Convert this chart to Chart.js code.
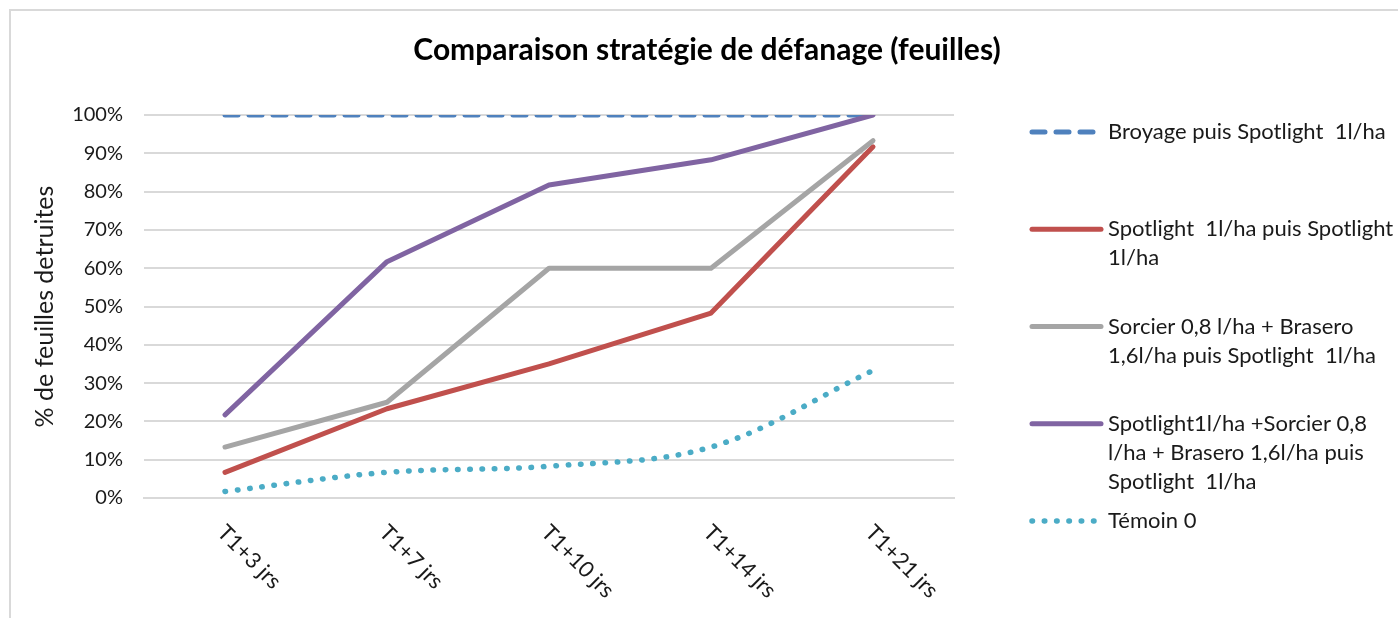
<!DOCTYPE html>
<html lang="fr">
<head>
    <meta charset="UTF-8">
    <title>Comparaison stratégie de défanage (feuilles)</title>
    <script src="https://cdn.jsdelivr.net/npm/chart.js"></script>
    <style>
        body {
            margin: 0;
            background: #FFFFFF;
        }
        .wrap {
            width: 1398px;
            height: 618px;
        }
    </style>
</head>
<body>
    <div class="wrap">
        <canvas id="defanageChart" width="1398" height="618"></canvas>
    </div>

    <script>
        // data
        const categories = ['T1+3 jrs', 'T1+7 jrs', 'T1+10 jrs', 'T1+14 jrs', 'T1+21 jrs'];
        const broyage = [100, 100, 100, 100, 100];
        const spotlightSpotlight = [6.7, 23.3, 35, 48.3, 91.7];
        const sorcierBrasero = [13.3, 25, 60, 60, 93.3];
        const spotlightSorcier = [21.7, 61.7, 81.7, 88.3, 100];
        const temoin = [1.7, 6.7, 8.3, 13.3, 33.3];
        const yTicks = [0, 10, 20, 30, 40, 50, 60, 70, 80, 90, 100];

        const seriesNames = [
            ['Broyage puis Spotlight  1l/ha'],
            ['Spotlight  1l/ha puis Spotlight', '1l/ha'],
            ['Sorcier 0,8 l/ha + Brasero', '1,6l/ha puis Spotlight  1l/ha'],
            ['Spotlight1l/ha +Sorcier 0,8', 'l/ha + Brasero 1,6l/ha puis', 'Spotlight  1l/ha'],
            ['Témoin 0']
        ];
        const chartTitle = 'Comparaison stratégie de défanage (feuilles)';
        const yTitle = '% de feuilles detruites';

        const FONT = 'Lato, "Open Sans", sans-serif';
        const TEXT = '#1a1a1a';

        function line(name, data, color, extra) {
            return Object.assign({
                label: name.join(' '),
                data: data,
                borderColor: color,
                backgroundColor: color,
                borderWidth: 5,
                borderCapStyle: 'round',
                borderJoinStyle: 'round',
                pointRadius: 0,
                pointHoverRadius: 0,
                fill: false,
                tension: 0,
                clip: 0   // plot area clips the lines like the original
            }, extra || {});
        }

        const datasets = [
            line(seriesNames[0], broyage, '#4F81BD', { borderDash: [13, 11], order: 5 }),
            line(seriesNames[1], spotlightSpotlight, '#C0504D', { order: 4 }),
            line(seriesNames[2], sorcierBrasero, '#A5A5A5', { order: 3 }),
            line(seriesNames[3], spotlightSorcier, '#8064A2', { order: 2 }),
            line(seriesNames[4], temoin, '#4BACC6', { borderDash: [0.5, 11.8], borderWidth: 5.5, tension: 0.35, order: 1 })
        ];

        // frame, title, rotated category labels and the wrapped legend
        const decorations = {
            id: 'decorations',
            beforeDraw(chart) {
                const ctx = chart.ctx;
                ctx.save();
                ctx.strokeStyle = '#D9D9D9';
                ctx.lineWidth = 2;
                ctx.beginPath();
                ctx.moveTo(10, chart.height + 5);
                ctx.lineTo(10, 10);
                ctx.lineTo(chart.width + 5, 10);
                ctx.stroke();
                ctx.restore();
            },
            afterDraw(chart) {
                const ctx = chart.ctx;
                const xs = chart.scales.x;

                ctx.save();
                ctx.fillStyle = '#000';
                ctx.font = 'bold 30px ' + FONT;
                ctx.textAlign = 'center';
                ctx.textBaseline = 'middle';
                ctx.fillText(chartTitle, 707, 50);

                ctx.font = '22px ' + FONT;
                ctx.fillStyle = TEXT;
                ctx.textAlign = 'left';
                categories.forEach((c, i) => {
                    const x = xs.getPixelForTick(i);
                    ctx.save();
                    ctx.translate(x - 4, 529);
                    ctx.rotate(Math.PI / 4);
                    ctx.fillText(c, 0, 0);
                    ctx.restore();
                });

                const legendTop = 132, legendStep = 97.25;
                chart.data.datasets.forEach((ds, i) => {
                    const y = legendTop + i * legendStep;
                    ctx.save();
                    ctx.strokeStyle = ds.borderColor;
                    ctx.lineWidth = ds.borderWidth;
                    ctx.lineCap = 'round';
                    ctx.setLineDash(ds.borderDash || []);
                    ctx.beginPath();
                    ctx.moveTo(1032, y);
                    ctx.lineTo(1101, y);
                    ctx.stroke();
                    ctx.restore();
                    seriesNames[i].forEach((t, j) => {
                        ctx.fillText(t, 1108, y + j * 29);
                    });
                });
                ctx.restore();
            }
        };

        new Chart(document.getElementById('defanageChart'), {
            type: 'line',
            data: { labels: categories, datasets: datasets },
            plugins: [decorations],
            options: {
                responsive: false,
                animation: false,
                events: [],
                layout: { padding: { left: 0, top: 115, right: 444, bottom: 0 } },
                plugins: {
                    legend: { display: false },
                    title: { display: false },
                    tooltip: { enabled: false }
                },
                scales: {
                    x: {
                        offset: true,
                        grid: { display: false, drawTicks: false, offset: true },
                        border: { display: true, color: '#D9D9D9', width: 2 },
                        ticks: { display: false },
                        afterFit: scale => { scale.height = 120; }
                    },
                    y: {
                        min: 0,
                        max: 100,
                        afterBuildTicks: scale => { scale.ticks = yTicks.map(v => ({ value: v })); },
                        ticks: {
                            callback: v => v + '%',
                            padding: 21,
                            color: TEXT,
                            font: { family: FONT, size: 20 }
                        },
                        grid: { color: '#D9D9D9', lineWidth: 2, drawTicks: false },
                        border: { display: false },
                        title: {
                            display: true,
                            text: yTitle,
                            color: TEXT,
                            font: { family: FONT, size: 25 },
                            padding: { top: 30 }
                        },
                        afterFit: scale => { scale.width = 144; }
                    }
                }
            }
        });
    </script>
</body>
</html>
